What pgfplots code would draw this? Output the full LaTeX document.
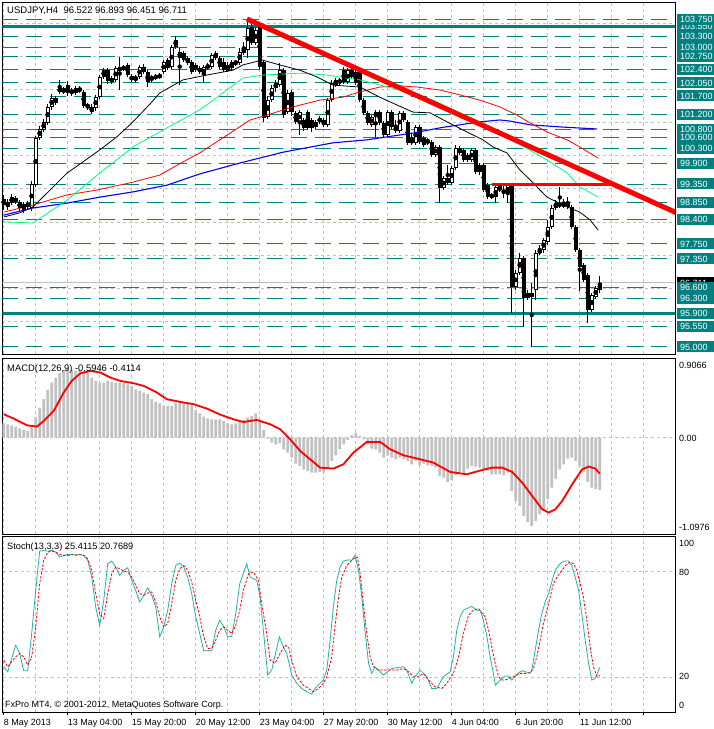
\documentclass[border=0pt]{standalone}
\usepackage{fontspec}
\setmainfont{Liberation Sans}
\usepackage{pgfplots}
\usepackage{pgfplotstable}
\pgfplotsset{compat=1.18}

\definecolor{lvl}{HTML}{008080}
\definecolor{gridgray}{HTML}{C0C0C0}
\definecolor{magreen}{HTML}{00FF7F}
\definecolor{stochk}{HTML}{20B2AA}
\newcommand{\mtf}{\fontsize{9}{10}\selectfont}

% H4 candles: index, open, high, low, close
\pgfplotstableread{
i o h l c
0 98.79 99.06 98.66 98.95
1 98.87 98.95 98.66 98.74
2 98.84 99.08 98.79 99.00
3 98.98 99.03 98.82 98.87
4 98.87 98.92 98.63 98.71
5 98.82 98.87 98.58 98.66
6 98.74 98.90 98.68 98.84
7 98.71 99.43 98.63 99.35
8 99.32 100.63 99.27 100.58
9 100.58 100.90 100.53 100.82
10 100.79 101.09 100.74 101.01
11 100.98 101.49 100.93 101.41
12 101.41 101.75 101.33 101.65
13 101.65 101.70 101.46 101.51
14 101.81 102.13 101.75 101.91
15 101.89 101.94 101.75 101.81
16 101.99 102.10 101.70 101.78
17 101.86 101.91 101.70 101.78
18 101.78 101.97 101.73 101.91
19 101.91 101.97 101.78 101.83
20 101.81 101.86 101.38 101.43
21 101.46 101.51 101.33 101.41
22 101.41 101.49 101.22 101.27
23 101.38 101.73 101.30 101.67
24 101.67 102.26 101.62 102.21
25 102.21 102.45 102.15 102.39
26 102.39 102.45 102.02 102.10
27 102.18 102.23 102.02 102.07
28 102.13 102.50 102.07 102.45
29 102.45 102.74 101.86 102.39
30 102.42 102.53 102.37 102.47
31 102.53 102.58 102.21 102.26
32 102.23 102.29 102.07 102.13
33 102.21 102.26 102.05 102.13
34 102.21 102.53 102.15 102.47
35 102.34 102.56 102.29 102.47
36 102.34 102.39 101.94 102.07
37 102.21 102.26 102.07 102.13
38 102.18 102.29 102.13 102.23
39 102.26 102.31 102.15 102.21
40 102.34 102.66 102.29 102.61
41 102.66 102.72 102.39 102.45
42 102.47 103.06 102.42 103.01
43 103.01 103.30 102.96 103.20
44 102.88 102.98 101.99 102.72
45 102.85 102.90 102.61 102.66
46 102.72 102.77 102.53 102.58
47 102.61 102.66 102.29 102.34
48 102.53 102.58 102.34 102.39
49 102.45 102.50 102.29 102.34
50 102.26 102.53 102.07 102.47
51 102.45 102.58 102.39 102.53
52 102.47 102.85 102.42 102.80
53 102.85 102.90 102.66 102.72
54 102.72 102.77 102.42 102.47
55 102.61 102.72 102.34 102.39
56 102.45 102.61 102.34 102.39
57 102.45 102.66 102.39 102.61
58 102.61 102.66 102.50 102.58
59 102.58 102.98 102.53 102.88
60 102.85 103.14 102.80 102.98
61 102.93 103.76 102.72 103.52
62 103.54 103.65 103.06 103.12
63 103.12 103.54 103.06 103.46
64 103.60 103.65 102.39 102.47
65 102.61 102.66 101.01 101.11
66 101.14 101.70 101.09 101.59
67 101.59 101.99 101.54 101.91
68 101.91 102.13 101.81 102.05
69 101.99 102.58 101.94 102.39
70 102.39 102.45 101.11 101.19
71 101.27 101.86 101.22 101.78
72 101.81 101.86 101.17 101.27
73 101.25 101.30 100.95 101.01
74 101.01 101.33 100.66 101.27
75 101.06 101.11 100.77 100.85
76 101.27 101.33 100.79 100.85
77 101.06 101.11 100.74 100.85
78 101.01 101.06 100.82 100.87
79 101.01 101.17 100.95 101.11
80 101.06 101.11 100.87 100.93
81 100.93 101.65 100.87 101.59
82 101.59 102.13 101.54 102.05
83 101.99 102.18 101.94 102.13
84 102.13 102.18 101.99 102.05
85 102.39 102.47 102.02 102.07
86 102.07 102.45 102.02 102.39
87 102.39 102.45 102.15 102.21
88 102.34 102.39 101.99 102.05
89 102.39 102.45 101.54 101.59
90 101.59 101.65 101.19 101.25
91 101.25 101.30 100.93 100.98
92 100.93 101.19 100.87 101.14
93 101.14 101.33 100.61 101.27
94 101.27 101.33 100.93 100.98
95 100.98 101.03 100.61 100.66
96 100.66 101.33 100.61 101.27
97 101.27 101.33 100.82 100.87
98 100.87 101.06 100.71 100.77
99 100.77 101.30 100.71 101.25
100 101.25 101.30 101.01 101.06
101 101.01 101.06 100.39 100.45
102 100.53 100.71 100.39 100.45
103 100.45 100.93 100.39 100.87
104 100.87 100.93 100.42 100.47
105 100.58 100.63 100.34 100.39
106 100.53 100.58 100.39 100.45
107 100.47 100.53 100.07 100.13
108 100.13 100.39 100.07 100.34
109 100.34 100.39 98.84 99.24
110 99.24 99.57 99.19 99.51
111 99.38 99.86 99.32 99.51
112 99.38 99.83 99.32 99.78
113 99.78 100.39 99.73 100.31
114 100.31 100.37 100.13 100.18
115 100.26 100.31 99.94 99.99
116 100.13 100.18 99.94 99.99
117 99.99 100.31 99.94 100.26
118 100.26 100.31 99.62 99.67
119 99.67 99.91 99.59 99.86
120 99.86 99.91 99.14 99.19
121 99.32 99.38 98.95 99.00
122 99.06 99.11 98.95 99.00
123 99.00 99.32 98.84 99.27
124 99.27 99.38 99.14 99.19
125 99.19 99.30 98.98 99.11
126 99.11 99.38 98.84 99.32
127 99.32 99.38 95.91 96.60
128 96.60 97.06 96.52 96.98
129 96.98 97.51 96.92 97.38
130 97.38 97.43 95.53 96.31
131 96.31 96.52 96.25 96.44
132 96.44 96.71 95.00 96.34
133 96.52 97.59 96.25 97.51
134 97.51 97.72 97.46 97.59
135 97.59 97.91 97.51 97.86
136 97.80 98.39 97.72 98.20
137 98.20 98.79 98.15 98.71
138 98.71 98.92 98.66 98.84
139 98.84 99.27 98.71 98.76
140 98.76 98.95 98.71 98.84
141 98.84 99.00 98.68 98.74
142 98.74 98.79 98.15 98.20
143 98.20 98.26 97.54 97.59
144 97.59 97.64 96.49 97.14
145 97.19 97.24 96.73 96.79
146 96.92 96.98 95.64 95.99
147 95.99 96.44 95.93 96.39
148 96.34 96.63 96.28 96.58
149 96.52 96.89 96.45 96.71
}\candles

% MACD main line (histogram)
\pgfplotstableread{
i v
0 0.163
1 0.152
2 0.140
3 0.125
4 0.106
5 0.087
6 0.076
7 0.114
8 0.228
9 0.342
10 0.437
11 0.543
12 0.626
13 0.683
14 0.733
15 0.771
16 0.797
17 0.771
18 0.759
19 0.771
20 0.759
21 0.733
22 0.683
23 0.645
24 0.626
25 0.626
26 0.645
27 0.634
28 0.626
29 0.626
30 0.626
31 0.607
32 0.588
33 0.550
34 0.532
35 0.513
36 0.494
37 0.437
38 0.406
39 0.391
40 0.361
41 0.361
42 0.361
43 0.399
44 0.406
45 0.399
46 0.380
47 0.368
48 0.315
49 0.277
50 0.239
51 0.220
52 0.209
53 0.209
54 0.209
55 0.190
56 0.163
57 0.152
58 0.163
59 0.190
60 0.201
61 0.228
62 0.247
63 0.277
64 0.209
65 0.087
66 -0.011
67 -0.057
68 -0.076
69 -0.065
70 -0.133
71 -0.171
72 -0.228
73 -0.296
74 -0.323
75 -0.361
76 -0.380
77 -0.399
78 -0.399
79 -0.391
80 -0.399
81 -0.342
82 -0.266
83 -0.201
84 -0.133
85 -0.076
86 -0.027
87 0.027
88 0.057
89 0.019
90 -0.019
91 -0.076
92 -0.125
93 -0.133
94 -0.171
95 -0.228
96 -0.201
97 -0.228
98 -0.247
99 -0.228
100 -0.247
101 -0.266
102 -0.304
103 -0.266
104 -0.315
105 -0.296
106 -0.315
107 -0.323
108 -0.342
109 -0.437
110 -0.456
111 -0.505
112 -0.486
113 -0.429
114 -0.399
115 -0.406
116 -0.353
117 -0.323
118 -0.330
119 -0.342
120 -0.361
121 -0.380
122 -0.418
123 -0.418
124 -0.418
125 -0.429
126 -0.399
127 -0.607
128 -0.721
129 -0.778
130 -0.892
131 -0.961
132 -1.006
133 -0.949
134 -0.873
135 -0.835
136 -0.702
137 -0.569
138 -0.467
139 -0.361
140 -0.304
141 -0.239
142 -0.228
143 -0.266
144 -0.323
145 -0.391
146 -0.505
147 -0.569
148 -0.588
149 -0.595
}\macdhist

\pgfplotsset{
  panel/.style={
    scale only axis, width=672.5pt, xmin=-0.3, xmax=167.8,
    anchor=south west,
    axis line style={black, line width=0.8pt},
    xtick={0,16,...,160}, minor x tick num=1,
    xmajorgrids, xminorgrids, ymajorgrids,
    grid style={gridgray, line width=0.8pt, dash pattern=on 3pt off 3pt},
    xticklabels={}, yticklabels={},
    major tick length=0pt, minor tick length=0pt,
  },
  candlebar/.style={only marks, mark=none, forget plot,
    error bars/y dir=both, error bars/y explicit, error bars/error mark=none,
    error bars/error bar style={draw=#1}},
}

% right-hand price label box
\newcommand{\lvlbox}[3][lvl]{%
  \fill[#1] (677pt,{#2pt-5.5pt}) rectangle (716pt,{#2pt+5.5pt});
  \node[anchor=base west, inner sep=0pt, text=white, font=\mtf] at (680pt,{#2pt-3.2pt}) {#3};}

\begin{document}
\begin{tikzpicture}
\path[use as bounding box] (0,0) rectangle (713pt,729pt);

% ---------------- price panel
\begin{axis}[panel, at={(2.5pt,375pt)}, height=351.3pt,
  ymin=94.813, ymax=104.191,
  ytick={95.688,96.572,97.456,98.339,99.223,100.107,100.990,101.874,102.757,103.641}]
\pgfplotsinvokeforeach{103.75,103.3,103.0,102.75,102.4,102.05,101.7,101.2,100.8,100.6,100.3,99.9,99.35,98.85,98.4,97.75,97.35,96.6,96.3,95.55,95.0}{
  \addplot[lvl, line width=1pt, dash pattern=on 16pt off 8pt, forget plot] coordinates {(-0.3,#1) (167.8,#1)};
}
\addplot[lvl, line width=3pt] coordinates {(-0.3,103.55) (167.8,103.55)};
\addplot[lvl, line width=3pt] coordinates {(-0.3,95.9) (167.8,95.9)};
\addplot[gridgray, line width=0.8pt] coordinates {(-0.3,96.711) (167.8,96.711)};

% wicks, bodies, hollow centres of rising candles
\addplot[candlebar={black, line width=1pt}]
  table[x=i, y expr={(\thisrow{h}+\thisrow{l})/2}, y error expr={(\thisrow{h}-\thisrow{l})/2}] {\candles};
\addplot[candlebar={black, line width=3.8pt}]
  table[x=i, y expr={(\thisrow{o}+\thisrow{c})/2}, y error expr={max(abs(\thisrow{c}-\thisrow{o})/2,0.014)}] {\candles};
\addplot[candlebar={white, line width=1.7pt}]
  table[x=i, y expr={(\thisrow{o}+\thisrow{c})/2}, y error expr={(\thisrow{c}>\thisrow{o})*max((\thisrow{c}-\thisrow{o})/2-0.027,0)}] {\candles};

% moving averages
\addplot[blue, line width=1.1pt] coordinates {(0,98.52)(7.3,98.71)(15.8,98.84)(24,99.00)(32.3,99.14)(40.8,99.32)(49,99.62)(59,99.91)(69.8,100.20)(82.3,100.45)(90.8,100.53)(95.8,100.61)(102.3,100.71)(109,100.85)(114,100.93)(119,101.01)(124,101.06)(126.6,101.03)(131.6,100.93)(139.8,100.87)(148.3,100.82)};
\addplot[red, line width=0.8pt] coordinates {(0,98.60)(7.3,98.79)(15.8,99.06)(23.3,99.19)(32.3,99.40)(39,99.59)(44.8,99.94)(49,100.18)(56.6,100.71)(61.6,101.06)(65.8,101.19)(72.3,101.41)(79,101.59)(84.8,101.67)(89,101.81)(94,101.94)(99,101.97)(103.3,101.94)(109,101.86)(114,101.73)(119,101.59)(124,101.41)(128.3,101.19)(131.6,100.98)(135.8,100.74)(140.8,100.53)(144,100.34)(148.6,100.04)};
\addplot[magreen, line width=0.8pt] coordinates {(0,98.34)(7.3,98.31)(15.8,98.92)(24,99.64)(32.3,100.34)(40.8,100.85)(49,101.33)(55.8,101.86)(59.8,102.18)(64.8,102.26)(74,102.31)(80.8,102.26)(89,102.13)(99,101.86)(107.3,101.59)(114,101.25)(121.6,100.85)(128.3,100.45)(135.8,99.99)(140.8,99.65)(144,99.27)(148.6,99.00)};
\addplot[black, line width=0.8pt] coordinates {(0,98.47)(4,98.58)(7.3,98.74)(11.6,99.19)(15.8,99.64)(19.8,99.94)(24,100.26)(28.3,100.61)(32.3,101.01)(36.6,101.49)(39,101.78)(44.8,102.13)(50.8,102.26)(57.3,102.39)(59.8,102.53)(64.6,102.66)(69,102.53)(74,102.39)(78.3,102.21)(82.3,101.99)(89,101.94)(94,101.67)(98.3,101.46)(102.3,101.27)(106.6,101.25)(110.8,101.01)(115.8,100.74)(119.8,100.53)(122.3,100.34)(125.8,100.18)(129,99.73)(131.6,99.46)(135.8,99.00)(140.8,98.74)(144,98.60)(146.6,98.39)(148.6,98.12)};

% trend line and resistance
\addplot[red, line width=5pt] coordinates {(60.8,103.756) (170,98.494)};
\addplot[red, line width=3pt] coordinates {(122,99.35) (152.3,99.35)};
\end{axis}

% ---------------- MACD panel
\begin{axis}[panel, at={(2.5pt,195pt)}, height=176pt,
  ymin=-1.0976, ymax=0.9066, ytick={0}]
\addplot[ybar, bar width=2.7pt, fill=gridgray, draw=none] table[x=i, y=v] {\macdhist};
\addplot[red, line width=1.8pt] coordinates {(0,0.266)(2.5,0.216)(5.8,0.140)(8.3,0.125)(10,0.190)(12.5,0.304)(15,0.513)(17,0.646)(19.2,0.733)(21.7,0.759)(24.2,0.740)(26.7,0.683)(29.2,0.645)(32.5,0.619)(35,0.588)(38.3,0.513)(40.8,0.437)(44.2,0.406)(47.5,0.380)(50.8,0.330)(54.2,0.260)(57.4,0.209)(59.9,0.178)(63.25,0.201)(66.6,0.152)(69.1,0.095)(71.6,-0.019)(74.1,-0.152)(76.6,-0.247)(79.1,-0.342)(82.4,-0.353)(84.9,-0.304)(87.4,-0.171)(90.75,-0.049)(94.1,-0.049)(96.6,-0.133)(99.9,-0.201)(104.1,-0.247)(107.4,-0.285)(111.6,-0.391)(115.75,-0.418)(119.9,-0.365)(122.1,-0.342)(124.6,-0.342)(127.1,-0.391)(129.6,-0.513)(132.1,-0.664)(134.6,-0.816)(136.25,-0.854)(137.9,-0.816)(139.6,-0.721)(142.1,-0.532)(144.6,-0.361)(146.25,-0.330)(147.9,-0.353)(149,-0.411)};
\end{axis}

% ---------------- Stochastic panel
\begin{axis}[panel, at={(2.5pt,17pt)}, height=175.5pt,
  ymin=0, ymax=100, ytick={20,80},
  xtick pos=bottom, tick align=outside, major tick length=3pt,
  xtick style={black, line width=0.8pt}, ytick style={draw=none},
  xticklabels={8 May 2013,13 May 04:00,15 May 20:00,20 May 12:00,23 May 04:00,27 May 20:00,30 May 12:00,4 Jun 04:00,6 Jun 20:00,11 Jun 12:00},
  xticklabel style={font=\mtf, anchor=north west, inner sep=0pt, yshift=-4.5pt}]
\addplot[stochk, line width=0.8pt] coordinates {(0,25.8)(1,22.9)(2,30.5)(3,38.1)(4,33.3)(5,23.5)(6,23.5)(7,44.7)(8,69.3)(9,91.7)(10,92.0)(11,91.7)(12,92.0)(13,91.1)(14,88.3)(15,89.2)(16,89.8)(17,89.8)(18,89.2)(19,89.8)(20,89.2)(21,86.4)(22,76.9)(23,59.8)(24,49.4)(25,63.6)(26,84.5)(27,86.0)(28,82.6)(29,77.8)(30,80.7)(31,82.2)(32,75.0)(33,69.3)(34,62.7)(35,66.5)(36,70.8)(37,66.5)(38,59.8)(39,42.8)(40,48.5)(41,58.0)(42,73.1)(43,83.5)(44,84.8)(45,82.6)(46,76.9)(47,67.4)(48,54.2)(49,44.7)(50,34.8)(51,35.2)(52,34.8)(53,46.6)(54,52.3)(55,48.5)(56,42.8)(57,43.2)(58,56.1)(59,73.1)(60.75,84.5)(61.6,76.9)(63.25,75.0)(64.1,65.5)(64.9,46.6)(66,21.0)(67,23.9)(68.9,42.8)(69.9,37.1)(70.75,33.3)(72,21.0)(73.25,16.3)(74.5,13.4)(75.75,11.6)(77,10.2)(77.8,13.4)(79.9,18.2)(80.75,23.9)(81.6,40.9)(82.4,59.8)(83.25,75.0)(84.1,82.6)(84.9,86.0)(86.2,86.7)(87,86.4)(87.8,89.2)(88.7,80.7)(89.5,65.5)(90.3,46.6)(91.2,27.7)(92,22.0)(92.8,25.8)(94.9,21.0)(97,24.8)(99.9,25.8)(100.75,23.9)(102,16.3)(102.8,20.1)(104.1,23.9)(105.75,20.1)(107,13.4)(108.25,13.4)(109.9,20.1)(111.6,22.9)(112.4,31.4)(113.25,46.6)(114.1,54.2)(114.9,58.0)(117,60.2)(118.25,58.0)(119.1,58.0)(119.9,52.3)(120.8,42.8)(121.6,31.4)(122.4,22.0)(122.9,15.3)(123.7,17.2)(124.5,19.1)(125.35,20.5)(126.2,20.5)(127,18.2)(127.85,20.1)(128.7,22.3)(129.5,23.5)(130.35,22.9)(131.6,22.3)(132,23.9)(132.85,35.2)(133.7,46.6)(134.5,56.1)(135.35,62.7)(136.2,67.4)(137,74.1)(137.85,80.7)(138.7,83.5)(139.5,85.4)(140.35,86.0)(141.2,86.0)(142,83.5)(142.85,76.9)(143.7,69.3)(144.5,56.1)(145.35,40.9)(146.2,27.7)(147,18.2)(147.85,19.1)(149,25.4)};
\addplot[red, line width=0.8pt, dash pattern=on 2.5pt off 1.5pt] coordinates {(0,29.5)(1,25.8)(2,28.6)(3,31.4)(4,33.3)(5,31.4)(6,26.7)(7,31.4)(8,48.5)(9,73.1)(10,86.4)(11,91.1)(12,91.7)(13,91.1)(14,89.8)(15,89.2)(16,89.2)(17,89.6)(18,89.6)(19,89.6)(20,89.4)(21,87.3)(22,80.7)(23,67.4)(24,56.1)(25,53.2)(26,67.4)(27,78.8)(28,82.6)(29,81.6)(30,80.3)(31,79.7)(32,76.9)(33,72.2)(34,67.4)(35,66.5)(36,67.8)(37,68.4)(38,62.7)(39,54.2)(40,48.5)(41,50.4)(42,61.7)(43,75.0)(44,81.6)(45,83.5)(46,80.7)(47,74.1)(48,63.6)(49,54.2)(50,42.8)(51,36.2)(52,36.2)(53,40.9)(54,46.6)(55,48.5)(56,46.6)(57,44.7)(58,49.4)(59,58.0)(59.9,69.3)(61.2,78.8)(62.4,79.7)(63.7,75.0)(64.5,61.7)(65.75,44.7)(66.6,29.5)(67.8,27.7)(69.1,33.3)(70.3,38.1)(71.2,37.1)(72,29.5)(73.25,20.1)(74.9,15.3)(76.2,13.4)(77.4,11.6)(78.7,13.4)(79.9,16.3)(80.75,20.1)(82,31.4)(82.8,48.5)(83.7,65.5)(84.5,76.9)(85.75,83.5)(87.4,87.3)(88.4,88.3)(89.1,78.8)(89.9,61.7)(90.75,44.7)(91.6,31.4)(92.4,25.8)(93.7,23.9)(95.75,23.9)(98.25,23.9)(99.9,24.8)(101.2,22.9)(102.4,20.1)(103.7,20.1)(104.9,22.0)(106.2,18.2)(107.8,14.4)(109.5,13.4)(110.75,16.3)(112.4,22.0)(113.7,31.4)(114.9,44.7)(116.2,55.1)(117.4,58.0)(118.7,58.9)(120.35,54.2)(121.2,46.6)(122,37.1)(122.85,27.7)(123.7,20.1)(124.5,18.2)(125.35,18.2)(126.2,19.1)(127.4,20.1)(128.25,21.0)(129.1,22.0)(130.35,22.0)(131.6,22.3)(132.4,24.8)(133.25,31.4)(134.1,40.9)(134.9,50.4)(135.75,58.0)(136.6,65.5)(137.4,73.1)(138.3,76.9)(139.5,80.7)(140.8,84.5)(141.6,85.4)(142.4,84.5)(143.3,80.7)(144.1,73.1)(144.9,65.5)(145.75,52.3)(146.6,37.1)(147.4,25.8)(148.3,20.1)(149,20.8)};
\end{axis}

% ---------------- panel captions
\node[anchor=base west, inner sep=0pt, font=\fontsize{9.5}{10}\selectfont] at (7pt,715pt) {USDJPY,H4\ \ 96.522 96.893 96.451 96.711};
\node[anchor=base west, inner sep=0pt, font=\fontsize{9.4}{10}\selectfont] at (7pt,357.5pt) {MACD(12,26,9) -0.5946 -0.4114};
\node[anchor=base west, inner sep=0pt, font=\fontsize{9.2}{10}\selectfont] at (7pt,179.5pt) {Stoch(13,3,3) 25.4115 20.7689};
\node[anchor=base west, inner sep=0pt, font=\mtf] at (5pt,21.5pt) {FxPro MT4, © 2001-2012, MetaQuotes Software Corp.};

% ---------------- right-hand price scale
\lvlbox{702.3}{103.550}
\lvlbox{709.8}{103.750}
\lvlbox{692.9}{103.300}
\lvlbox{681.7}{103.000}
\lvlbox{672.3}{102.750}
\lvlbox{659.2}{102.400}
\lvlbox{646.1}{102.050}
\lvlbox{633.0}{101.700}
\lvlbox{614.3}{101.200}
\lvlbox{599.3}{100.800}
\lvlbox{591.8}{100.600}
\lvlbox{580.5}{100.300}
\lvlbox{565.6}{99.900}
\lvlbox{545.0}{99.350}
\lvlbox{526.2}{98.850}
\lvlbox{509.4}{98.400}
\lvlbox{485.0}{97.750}
\lvlbox{470.0}{97.350}
\lvlbox[black]{446.0}{96.711}
\lvlbox{441.9}{96.600}
\lvlbox{430.7}{96.300}
\lvlbox{415.7}{95.900}
\lvlbox{402.6}{95.550}
\lvlbox{382.0}{95.000}

% MACD and stochastic scales
\node[anchor=base west, inner sep=0pt, font=\mtf] at (679pt,360.7pt) {0.9066};
\node[anchor=base west, inner sep=0pt, font=\mtf] at (679pt,287.7pt) {0.00};
\node[anchor=base west, inner sep=0pt, font=\mtf] at (679pt,198pt) {-1.0976};
\node[anchor=base west, inner sep=0pt, font=\mtf] at (679pt,182.7pt) {100};
\node[anchor=base west, inner sep=0pt, font=\mtf] at (679pt,153.7pt) {80};
\node[anchor=base west, inner sep=0pt, font=\mtf] at (679pt,49.2pt) {20};
\node[anchor=base west, inner sep=0pt, font=\mtf] at (679pt,20.7pt) {0};
\end{tikzpicture}
\end{document}
